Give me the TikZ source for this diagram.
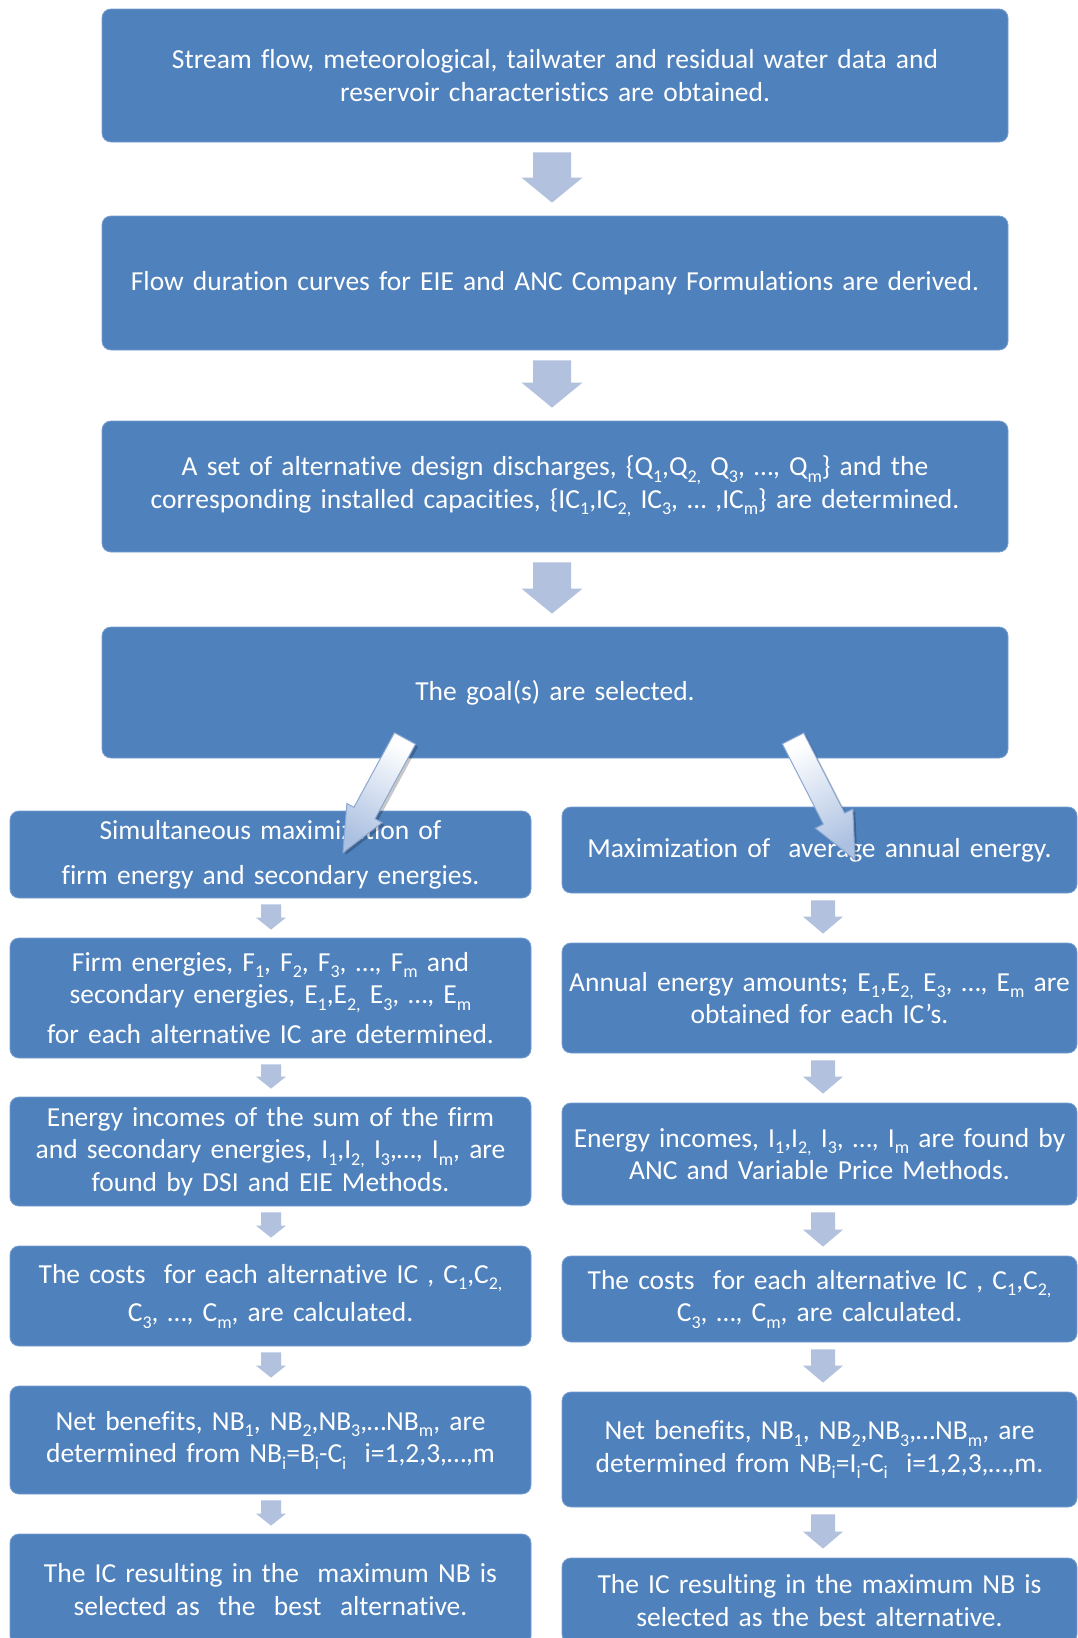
\documentclass[tikz,border=0pt]{standalone}
\usepackage{fontspec}
\setmainfont{Carlito}[RawFeature={-liga}]
\usetikzlibrary{calc}
\definecolor{boxblue}{RGB}{79,129,189}
\definecolor{boxedge}{RGB}{120,158,206}
\definecolor{arrowblue}{RGB}{178,193,221}
\definecolor{garrow}{RGB}{172,193,225}
\definecolor{garrowline}{RGB}{140,168,210}
\newcommand\subs[1]{\raisebox{-6.5pt}{\fontsize{18}{18}\selectfont #1}}
\newcommand\blockarrow[6]{%
  \coordinate (bak) at ($(#3)!#6!(#2)$);
  \path[#1] ($(#2)!#4!90:(#3)$) -- ($(bak)!#4!90:(#3)$) -- ($(bak)!#5!90:(#3)$) -- (#3)
    -- ($(bak)!#5!-90:(#3)$) -- ($(bak)!#4!-90:(#3)$) -- ($(#2)!#4!-90:(#3)$) -- cycle;}
\tikzset{
  box/.style={rectangle, rounded corners=9pt, fill=boxblue, draw=boxedge, line width=0.8pt,
    text=white, align=center, inner sep=0pt, font=\fontsize{27.5}{32.5}\selectfont},
  wide/.style={box, minimum width=906pt, text width=890pt},
  lbox/.style={box, minimum width=521pt, text width=514pt},
  rbox/.style={box, minimum width=515pt, text width=512pt},
  flatarrow/.style={fill=arrowblue},
  gradarrow/.style={draw=garrowline, line width=1pt, top color=white, bottom color=garrow},
  gradshadow/.style={fill=black, opacity=0.22}
}
\begin{document}
\begin{tikzpicture}[x=1pt,y=1pt]
\useasboundingbox (0,0) rectangle (1078,-1638);
\clip (0,0) rectangle (1078,-1638);
\fill[white] (0,0) rectangle (1078,-1638);

% main column
\node[wide, minimum height=133pt] (b1) at (555,-75.5)
  {Stream flow, meteorological, tailwater and residual water data and\\reservoir characteristics are obtained.};
\node[wide, minimum height=134pt] (b2) at (555,-283)
  {Flow duration curves for EIE and ANC Company Formulations are derived.};
\node[wide, minimum height=131pt] (b3) at (555,-486.5)
  {A set of alternative design discharges, \{Q\subs{1},Q\subs{2,} Q\subs{3}, …, Q\subs{m}\} and the\\corresponding installed capacities, \{IC\subs{1},IC\subs{2,} IC\subs{3}, … ,IC\subs{m}\} are determined.};
\node[wide, minimum height=131pt] (b4) at (555,-692.5)
  {The goal(s) are selected.};

% left column
\node[lbox, minimum height=87pt] (l1) at (270.5,-854.5)
  {Simultaneous maximization of\\[12.5pt]firm energy and secondary energies.};
\node[lbox, minimum height=120pt] (l2) at (270.5,-998)
  {Firm energies, F\subs{1}, F\subs{2}, F\subs{3}, …, F\subs{m} and\\secondary energies, E\subs{1},E\subs{2,} E\subs{3}, …, E\subs{m}\\[7pt]for each alternative IC are determined.};
\node[lbox, minimum height=109pt] (l3) at (270.5,-1151.5)
  {Energy incomes of the sum of the firm\\and secondary energies, I\subs{1},I\subs{2,} I\subs{3},…, I\subs{m}, are\\found by DSI and EIE Methods.};
\node[lbox, minimum height=100pt] (l4) at (270.5,-1296)
  {The costs\ \ for each alternative IC , C\subs{1},C\subs{2,}\\[6pt]C\subs{3}, …, C\subs{m}, are calculated.};
\node[lbox, minimum height=108pt] (l5) at (270.5,-1440)
  {Net benefits, NB\subs{1}, NB\subs{2},NB\subs{3},…NB\subs{m}, are\\determined from NB\subs{i}=B\subs{i}-C\subs{i}\ \ i=1,2,3,…,m};
\node[lbox, minimum height=111pt] (l6) at (270.5,-1589.5)
  {The IC resulting in the\ \ maximum NB is\\selected as\ \ the\ \ best\ \ alternative.};

% right column
\node[rbox, minimum height=86pt] (r1) at (819.5,-850)
  {Maximization of\ \ average annual energy.};
\node[rbox, minimum height=110pt] (r2) at (819.5,-998)
  {Annual energy amounts; E\subs{1},E\subs{2,} E\subs{3}, …, E\subs{m}\ are\\obtained for each IC's.};
\node[rbox, minimum height=102pt] (r3) at (819.5,-1154)
  {Energy incomes, I\subs{1},I\subs{2,} I\subs{3}, …, I\subs{m} are found by\\ANC and Variable Price Methods.};
\node[rbox, minimum height=86pt] (r4) at (819.5,-1299)
  {The costs\ \ for each alternative IC , C\subs{1},C\subs{2,}\\C\subs{3}, …, C\subs{m}, are calculated.};
\node[rbox, minimum height=115pt] (r5) at (819.5,-1449.5)
  {Net benefits, NB\subs{1}, NB\subs{2},NB\subs{3},…NB\subs{m}, are\\determined from NB\subs{i}=I\subs{i}-C\subs{i}\ \ i=1,2,3,…,m.};
\node[rbox, minimum height=85pt] (r6) at (819.5,-1600.5)
  {The IC resulting in the maximum NB is\\selected as the best alternative.};

% main column arrows
\foreach \a/\b in {b1/b2, b2/b3, b3/b4}{
  \coordinate (tl) at ($(\a.south)+(-3,-10)$);
  \coordinate (tp) at ($(\b.north)+(-3,13)$);
  \blockarrow{flatarrow}{tl}{tp}{19pt}{30.5pt}{25pt}
}
% left column arrows
\foreach \a/\b in {l1/l2, l2/l3, l3/l4, l4/l5, l5/l6}{
  \coordinate (tl) at ($(\a.south)+(0.5,-6)$);
  \coordinate (tp) at ($(\b.north)+(0.5,8)$);
  \blockarrow{flatarrow}{tl}{tp}{10pt}{15pt}{12pt}
}
% right column arrows
\foreach \a/\b in {r1/r2, r2/r3, r3/r4, r4/r5, r5/r6}{
  \coordinate (tl) at ($(\a.south)+(3.5,-7)$);
  \coordinate (tp) at ($(\b.north)+(3.5,9)$);
  \blockarrow{flatarrow}{tl}{tp}{12pt}{20pt}{17pt}
}

% diagonal arrows from the goal box
\coordinate (dlt) at ($(b4.south)+(-150,20)$);
\coordinate (dlp) at ($(l1.north)+(72.5,-42)$);
\coordinate (drt) at ($(b4.south)+(238,20)$);
\coordinate (drp) at ($(r1.north)+(35.5,-53)$);
\begin{scope}[transform canvas={shift={(2.5pt,-2.5pt)}}]
  \blockarrow{gradshadow}{dlt}{dlp}{12pt}{20pt}{45pt}
  \blockarrow{gradshadow}{drt}{drp}{12pt}{21pt}{46pt}
\end{scope}
\blockarrow{gradarrow, shading angle=-28}{dlt}{dlp}{12pt}{20pt}{45pt}
\blockarrow{gradarrow, shading angle=27}{drt}{drp}{12pt}{21pt}{46pt}
\end{tikzpicture}
\end{document}
